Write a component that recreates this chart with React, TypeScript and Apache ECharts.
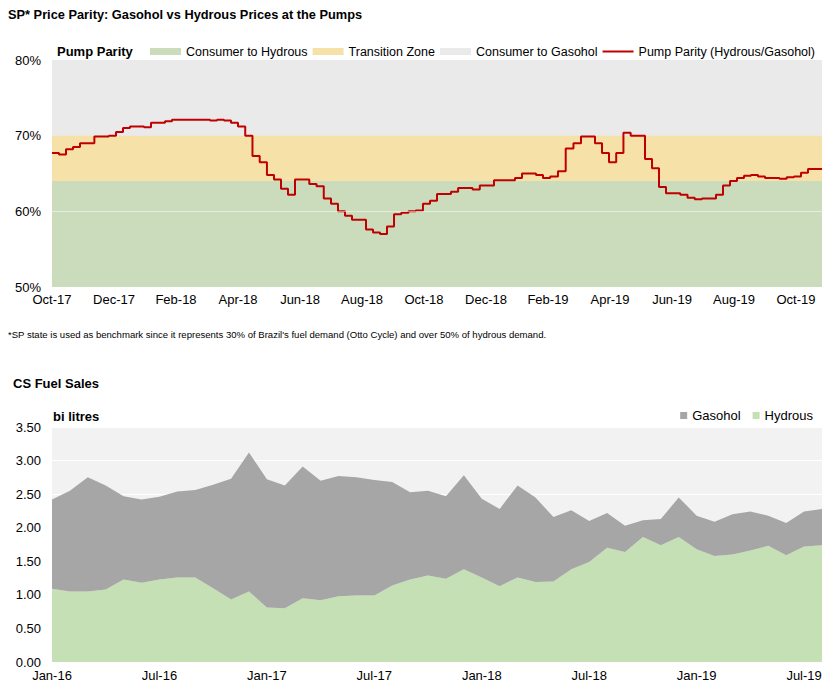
import { useEffect, useRef } from 'react';
import * as echarts from 'echarts';

// ---------- Pump parity (weekly, starting 2017-10-01) ----------
const parityStart = '2017-10-01';
const parityWeekly = [
  67.7, 67.5, 68.2, 68.5, 69.0, 69.0, 69.9, 69.9, 70.0, 70.5,
  71.0, 71.2, 71.2, 71.1, 71.7, 71.7, 71.9, 72.1, 72.1, 72.1,
  72.1, 72.1, 72.0, 72.1, 72.0, 71.7, 71.2, 70.0, 67.3, 66.5,
  64.8, 64.2, 63.0, 62.2, 64.2, 64.2, 63.6, 63.3, 61.7, 61.0,
  60.0, 59.4, 58.9, 58.9, 57.6, 57.2, 57.0, 58.0, 59.6, 59.8,
  60.0, 60.1, 61.0, 61.4, 62.3, 62.3, 62.6, 63.1, 63.1, 62.9,
  63.4, 63.4, 64.1, 64.1, 64.1, 64.4, 65.0, 65.0, 64.8, 64.4,
  64.6, 65.3, 68.3, 69.0, 69.9, 69.9, 69.0, 67.7, 66.5, 67.7,
  70.4, 70.0, 70.0, 66.9, 65.7, 63.2, 62.4, 62.4, 62.2, 61.8,
  61.6, 61.7, 61.7, 62.2, 63.4, 64.0, 64.4, 64.7, 64.8, 64.6,
  64.4, 64.4, 64.3, 64.5, 64.6, 65.1, 65.6, 65.6, 65.6,
];
const parityTicks = [
  'Oct-17', 'Dec-17', 'Feb-18', 'Apr-18', 'Jun-18', 'Aug-18', 'Oct-18',
  'Dec-18', 'Feb-19', 'Apr-19', 'Jun-19', 'Aug-19', 'Oct-19',
];
const hydrousZoneTop = 64;
const transitionZoneTop = 70;
const gasoholZoneTop = 80;
const parityGridLine = 60;

// ---------- CS fuel sales (monthly, bi litres) ----------
const salesMonths = [
  'Jan-16', 'Feb-16', 'Mar-16', 'Apr-16', 'May-16', 'Jun-16', 'Jul-16', 'Aug-16', 'Sep-16', 'Oct-16', 'Nov-16', 'Dec-16',
  'Jan-17', 'Feb-17', 'Mar-17', 'Apr-17', 'May-17', 'Jun-17', 'Jul-17', 'Aug-17', 'Sep-17', 'Oct-17', 'Nov-17', 'Dec-17',
  'Jan-18', 'Feb-18', 'Mar-18', 'Apr-18', 'May-18', 'Jun-18', 'Jul-18', 'Aug-18', 'Sep-18', 'Oct-18', 'Nov-18', 'Dec-18',
  'Jan-19', 'Feb-19', 'Mar-19', 'Apr-19', 'May-19', 'Jun-19', 'Jul-19', 'Aug-19',
];
const hydrousSales = [
  1.09, 1.05, 1.05, 1.08, 1.23, 1.18, 1.23, 1.26, 1.26, 1.10, 0.93, 1.05,
  0.81, 0.80, 0.95, 0.92, 0.98, 0.99, 0.99, 1.14, 1.23, 1.29, 1.24, 1.38,
  1.26, 1.13, 1.26, 1.19, 1.20, 1.38, 1.49, 1.70, 1.64, 1.86, 1.74, 1.86,
  1.68, 1.58, 1.60, 1.66, 1.73, 1.59, 1.72, 1.74,
];
const gasoholSales = [
  1.33, 1.50, 1.70, 1.55, 1.24, 1.24, 1.23, 1.28, 1.30, 1.54, 1.80, 2.07,
  1.91, 1.83, 1.96, 1.78, 1.79, 1.76, 1.72, 1.54, 1.30, 1.26, 1.23, 1.40,
  1.17, 1.15, 1.37, 1.26, 0.96, 0.88, 0.61, 0.52, 0.39, 0.25, 0.39, 0.59,
  0.50, 0.51, 0.60, 0.58, 0.45, 0.48, 0.52, 0.54,
];

const FONT = '"Liberation Sans", Arial, sans-serif';

function monthsSinceStart(d: Date, start: Date): number {
  const whole = (d.getUTCFullYear() - start.getUTCFullYear()) * 12 + (d.getUTCMonth() - start.getUTCMonth());
  const dim = new Date(Date.UTC(d.getUTCFullYear(), d.getUTCMonth() + 1, 0)).getUTCDate();
  return whole + (d.getUTCDate() - 1) / dim;
}

export default function App() {
  const ref = useRef<HTMLDivElement>(null);
  useEffect(() => {
    document.body.style.margin = '0';
    const chart = echarts.init(ref.current!, undefined, { renderer: 'svg' });
    const start = new Date(parityStart + 'T00:00:00Z');
    const parityData = parityWeekly.map((v, i) => {
      const d = new Date(start.getTime() + i * 7 * 86400000);
      return [monthsSinceStart(d, start), v];
    });
    const xMax = parityData[parityData.length - 1][0] as number;
    const band = (v: number) => [[0, v], [xMax, v]];
    const labelStyle = { color: '#000', fontSize: 13, fontFamily: FONT };

    chart.setOption({
      animation: false,
      textStyle: { fontFamily: FONT },
      title: [
        { text: 'SP* Price Parity: Gasohol vs Hydrous Prices at the Pumps', left: 8, top: 8, padding: 0,
          textStyle: { fontSize: 12.8, fontWeight: 'bold', color: '#000', fontFamily: FONT } },
        { text: 'Pump Parity', left: 57, top: 45, padding: 0,
          textStyle: { fontSize: 13, fontWeight: 'bold', color: '#000', fontFamily: FONT } },
        { text: "*SP state is used as benchmark since it represents 30% of Brazil's fuel demand (Otto Cycle) and over 50% of hydrous demand.",
          left: 8, top: 329, padding: 0,
          textStyle: { fontSize: 9.55, fontWeight: 'normal', color: '#000', fontFamily: FONT } },
        { text: 'CS Fuel Sales', left: 13, top: 377, padding: 0,
          textStyle: { fontSize: 13, fontWeight: 'bold', color: '#000', fontFamily: FONT } },
        { text: 'bi litres', left: 53, top: 410, padding: 0,
          textStyle: { fontSize: 13, fontWeight: 'bold', color: '#000', fontFamily: FONT } },
      ],
      legend: [
        {
          left: 150, top: 45, width: 680, padding: 0, itemGap: 5, itemWidth: 31, itemHeight: 7,
          textStyle: { fontSize: 12.5, color: '#000', fontFamily: FONT },
          data: [
            { name: 'Consumer to Hydrous', icon: 'rect' },
            { name: 'Transition Zone', icon: 'rect' },
            { name: 'Consumer to Gasohol', icon: 'rect' },
            { name: 'Pump Parity (Hydrous/Gasohol)', icon: 'path://M0,0H31V2H0Z' },
          ],
        },
        {
          right: 17, top: 409, padding: 0, itemGap: 12, itemWidth: 7, itemHeight: 7,
          textStyle: { fontSize: 13, color: '#000', fontFamily: FONT },
          data: [
            { name: 'Gasohol', icon: 'rect' },
            { name: 'Hydrous', icon: 'rect' },
          ],
        },
      ],
      grid: [
        { left: 52, top: 60, width: 770, height: 227, containLabel: false },
        { left: 52, top: 427, width: 770, height: 235, containLabel: false,
          show: true, backgroundColor: '#F2F2F2', borderWidth: 0 },
      ],
      xAxis: [
        {
          gridIndex: 0, type: 'value', min: 0, max: xMax, interval: 2,
          axisLine: { show: false }, axisTick: { show: false }, splitLine: { show: false },
          axisLabel: {
            ...labelStyle, margin: 6, showMaxLabel: false,
            formatter: (v: number) => {
              const k = Math.round(v / 2);
              return Math.abs(v - k * 2) < 1e-6 && parityTicks[k] ? parityTicks[k] : '';
            },
          },
        },
        {
          gridIndex: 1, type: 'category', boundaryGap: false, data: salesMonths,
          axisLine: { show: false }, axisTick: { show: false }, splitLine: { show: false },
          axisLabel: { ...labelStyle, margin: 7, interval: 5 },
        },
      ],
      yAxis: [
        {
          gridIndex: 0, type: 'value', min: 50, max: 80, interval: 10,
          axisLine: { show: false }, axisTick: { show: false }, splitLine: { show: false },
          axisLabel: { ...labelStyle, margin: 11, formatter: '{value}%' },
        },
        {
          gridIndex: 1, type: 'value', min: 0, max: 3.5, interval: 0.5,
          axisLine: { show: false }, axisTick: { show: false },
          splitLine: { show: true, lineStyle: { color: '#FFFFFF', width: 1 } },
          axisLabel: { ...labelStyle, margin: 11, formatter: (v: number) => v.toFixed(2) },
        },
      ],
      series: [
        {
          name: 'Consumer to Gasohol', type: 'line', xAxisIndex: 0, yAxisIndex: 0,
          data: band(gasoholZoneTop), symbol: 'none', silent: true,
          lineStyle: { width: 0, opacity: 0 }, itemStyle: { color: '#EAEAEA' },
          areaStyle: { color: '#EAEAEA', opacity: 1, origin: 'start' },
        },
        {
          name: 'Transition Zone', type: 'line', xAxisIndex: 0, yAxisIndex: 0,
          data: band(transitionZoneTop), symbol: 'none', silent: true,
          lineStyle: { width: 0, opacity: 0 }, itemStyle: { color: '#F6E2A9' },
          areaStyle: { color: '#F6E2A9', opacity: 1, origin: 'start' },
        },
        {
          name: 'Consumer to Hydrous', type: 'line', xAxisIndex: 0, yAxisIndex: 0,
          data: band(hydrousZoneTop), symbol: 'none', silent: true,
          lineStyle: { width: 0, opacity: 0 }, itemStyle: { color: '#CADCBC' },
          areaStyle: { color: '#CADCBC', opacity: 1, origin: 'start' },
          markLine: {
            silent: true, symbol: 'none', label: { show: false },
            lineStyle: { color: 'rgba(255,255,255,0.5)', width: 1, type: 'solid' },
            data: [{ yAxis: parityGridLine }],
          },
        },
        {
          name: 'Pump Parity (Hydrous/Gasohol)', type: 'line', xAxisIndex: 0, yAxisIndex: 0,
          data: parityData, symbol: 'none', step: 'end',
          lineStyle: { color: '#C00000', width: 2 }, itemStyle: { color: '#C00000' },
        },
        {
          name: 'Hydrous', type: 'line', xAxisIndex: 1, yAxisIndex: 1, stack: 'sales',
          data: hydrousSales, symbol: 'none',
          lineStyle: { width: 0, opacity: 0 }, itemStyle: { color: '#C5E0B4' },
          areaStyle: { color: '#C5E0B4', opacity: 1 },
        },
        {
          name: 'Gasohol', type: 'line', xAxisIndex: 1, yAxisIndex: 1, stack: 'sales',
          data: gasoholSales, symbol: 'none',
          lineStyle: { width: 0, opacity: 0 }, itemStyle: { color: '#A6A6A6' },
          areaStyle: { color: '#A6A6A6', opacity: 1 },
        },
      ],
    });
    return () => chart.dispose();
  }, []);
  return <div ref={ref} style={{ width: 830, height: 692 }} />;
}
